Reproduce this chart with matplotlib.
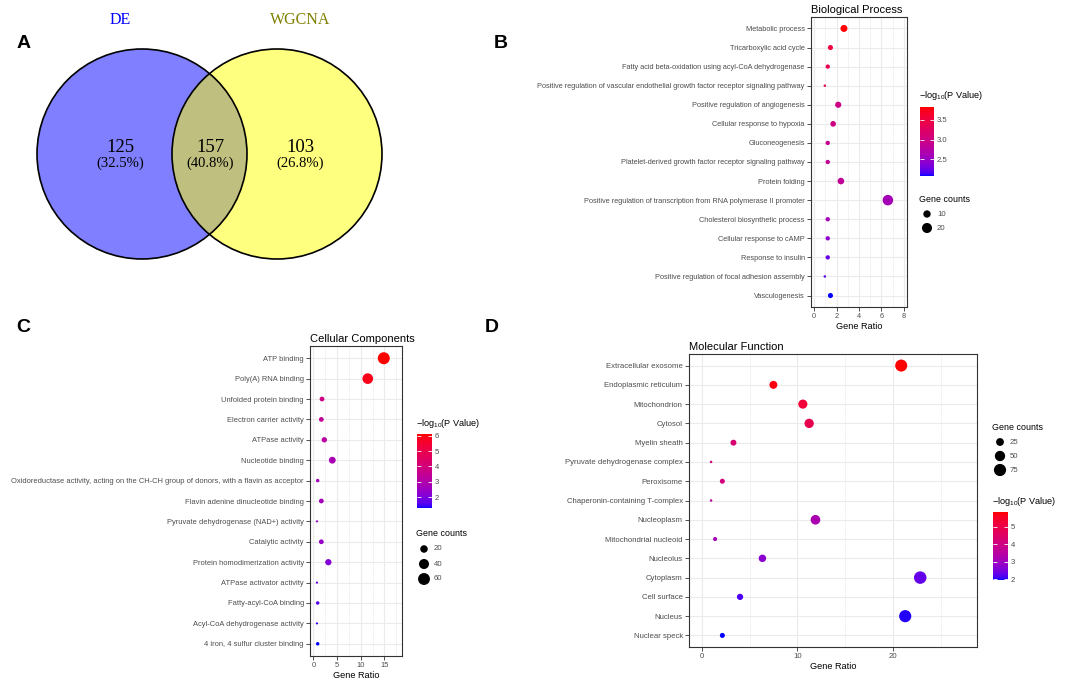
import numpy as np
import matplotlib
matplotlib.use("Agg")
import matplotlib.pyplot as plt
from matplotlib.colors import ListedColormap, Normalize
from matplotlib.cm import ScalarMappable
from matplotlib.patches import Circle
from matplotlib.ticker import MultipleLocator, FormatStrFormatter

plt.rcParams['font.family'] = ['Liberation Sans', 'DejaVu Sans']
plt.rcParams['mathtext.default'] = 'regular'

W, H = 1065, 682

# ---- data ----
venn_sets = ["DE", "WGCNA"]
venn_counts = [125, 157, 103]
venn_pct = ["(32.5%)", "(40.8%)", "(26.8%)"]

bp_terms = ["Metabolic process", "Tricarboxylic acid cycle",
            "Fatty acid beta-oxidation using acyl-CoA dehydrogenase",
            "Positive regulation of vascular endothelial growth factor receptor signaling pathway",
            "Positive regulation of angiogenesis", "Cellular response to hypoxia",
            "Gluconeogenesis", "Platelet-derived growth factor receptor signaling pathway",
            "Protein folding", "Positive regulation of transcription from RNA polymerase II promoter",
            "Cholesterol biosynthetic process", "Cellular response to cAMP",
            "Response to insulin", "Positive regulation of focal adhesion assembly",
            "Vasculogenesis"]
bp_ratio = [2.66, 1.46, 1.22, 0.96, 2.15, 1.70, 1.22, 1.22, 2.39, 6.57, 1.22, 1.22, 1.22, 0.96, 1.46]
bp_count = [9, 5, 4, 3, 7, 6, 4, 4, 8, 22, 4, 4, 4, 3, 5]
bp_logp = [3.82, 3.50, 3.35, 3.40, 3.00, 3.00, 2.90, 2.85, 2.85, 2.60, 2.60, 2.45, 2.25, 2.20, 2.08]

cc_terms = ["ATP binding", "Poly(A) RNA binding", "Unfolded protein binding",
            "Electron carrier activity", "ATPase activity", "Nucleotide binding",
            "Oxidoreductase activity, acting on the CH-CH group of donors, with a flavin as acceptor",
            "Flavin adenine dinucleotide binding", "Pyruvate dehydrogenase (NAD+) activity",
            "Catalytic activity", "Protein homodimerization activity", "ATPase activator activity",
            "Fatty-acyl-CoA binding", "Acyl-CoA dehydrogenase activity",
            "4 iron, 4 sulfur cluster binding"]
cc_ratio = [14.86, 11.48, 1.83, 1.69, 2.32, 4.00, 0.92, 1.69, 0.77, 1.69, 3.17, 0.77, 0.92, 0.77, 0.92]
cc_count = [61, 46, 7, 7, 9, 16, 4, 7, 3, 7, 13, 3, 4, 3, 4]
cc_logp = [6.13, 5.90, 3.80, 3.40, 3.20, 2.80, 2.70, 2.70, 2.50, 2.40, 2.10, 1.70, 1.60, 1.45, 1.28]

mf_terms = ["Extracellular exosome", "Endoplasmic reticulum", "Mitochondrion", "Cytosol",
            "Myelin sheath", "Pyruvate dehydrogenase complex", "Peroxisome",
            "Chaperonin-containing T-complex", "Nucleoplasm", "Mitochondrial nucleoid",
            "Nucleolus", "Cytoplasm", "Cell surface", "Nucleus", "Nuclear speck"]
mf_ratio = [20.87, 7.50, 10.58, 11.24, 3.32, 0.98, 2.16, 0.98, 11.90, 1.40, 6.35, 22.86, 4.01, 21.29, 2.16]
mf_count = [73, 26, 37, 39, 12, 3, 8, 3, 42, 5, 22, 80, 14, 75, 8]
mf_logp = [5.83, 5.70, 5.20, 4.90, 4.30, 4.10, 4.10, 3.60, 3.20, 3.10, 2.70, 2.30, 2.15, 2.00, 1.95]


# ---- blue -> red gradient interpolated in CIELAB (like ggplot) ----
M = np.array([[0.4124, 0.3576, 0.1805],
              [0.2126, 0.7152, 0.0722],
              [0.0193, 0.1192, 0.9505]])
WP = np.array([0.95047, 1.0, 1.08883])


def to_lab(rgb):
    c = np.asarray(rgb, float)
    lin = np.where(c > 0.04045, ((c + 0.055) / 1.055) ** 2.4, c / 12.92)
    xyz = M @ lin / WP
    f = np.where(xyz > 0.008856, np.cbrt(xyz), 7.787 * xyz + 16 / 116)
    return np.array([116 * f[1] - 16, 500 * (f[0] - f[1]), 200 * (f[1] - f[2])])


def from_lab(lab):
    L, a, b = lab
    fy = (L + 16) / 116
    f = np.array([fy + a / 500, fy, fy - b / 200])
    xyz = np.where(f ** 3 > 0.008856, f ** 3, (f - 16 / 116) / 7.787) * WP
    lin = np.clip(np.linalg.inv(M) @ xyz, 0, 1)
    return np.where(lin > 0.0031308, 1.055 * lin ** (1 / 2.4) - 0.055, 12.92 * lin)


lo, hi = to_lab([0, 0, 1]), to_lab([1, 0, 0])
cmap = ListedColormap([np.clip(from_lab(lo + t * (hi - lo)), 0, 1) for t in np.linspace(0, 1, 256)])

fig = plt.figure(figsize=(W / 100, H / 100), dpi=100)


def px_axes(l, t, r, b):
    return fig.add_axes([l / W, 1 - b / H, (r - l) / W, (b - t) / H])


ov = fig.add_axes([0, 0, 1, 1])
ov.set_xlim(0, W)
ov.set_ylim(H, 0)
ov.axis('off')

# ---- A: Venn ----
ov.add_patch(Circle((142, 154), 105, facecolor=(0, 0, 1, 0.5), edgecolor='none'))
ov.add_patch(Circle((277, 154), 105, facecolor=(1, 1, 0, 0.5), edgecolor='none'))
ov.add_patch(Circle((142, 154), 105, fill=False, edgecolor='black', lw=1.2))
ov.add_patch(Circle((277, 154), 105, fill=False, edgecolor='black', lw=1.2))
ov.text(120, 20, venn_sets[0], color='blue', fontsize=11.5, family='Liberation Serif', ha='center', va='center')
ov.text(300, 20, venn_sets[1], color='#808000', fontsize=11.5, family='Liberation Serif', ha='center', va='center')
for xc, n, p in zip([120, 210, 300], venn_counts, venn_pct):
    ov.text(xc, 147, str(n), fontsize=13.5, family='Liberation Serif', ha='center', va='center')
    ov.text(xc, 163, p, fontsize=10.5, family='Liberation Serif', ha='center', va='center')

for lab, (x, y) in zip("ABCD", [(24, 43), (501, 43), (23, 328), (492, 328)]):
    ov.text(x, y, lab, fontsize=14, fontweight='bold', ha='center', va='center')


def dot_panel(box, terms, ratio, count, logp, title, xlim, major, minor, drange, fs):
    ax = px_axes(*box)
    y = np.arange(len(terms))[::-1]
    norm = Normalize(min(logp), max(logp))
    c = np.array(count, float)
    frac = np.sqrt((c - c.min()) / (c.max() - c.min()))
    d = drange[0] + (drange[1] - drange[0]) * frac
    ax.scatter(ratio, y, s=(d * 0.72) ** 2, c=logp, cmap=cmap, norm=norm, linewidths=0, zorder=3)
    ax.set_xlim(*xlim)
    ax.set_ylim(-0.6, len(terms) - 0.4)
    ax.set_yticks(y)
    ax.set_yticklabels(terms)
    ax.xaxis.set_major_locator(MultipleLocator(major))
    ax.xaxis.set_minor_locator(MultipleLocator(minor))
    ax.grid(True, which='major', color='#EBEBEB', lw=0.8)
    ax.grid(True, which='minor', axis='x', color='#EBEBEB', lw=0.4)
    ax.set_axisbelow(True)
    ax.tick_params(which='major', length=3, width=0.6, color='#333333', labelcolor='#4D4D4D',
                   labelsize=fs, pad=1.5)
    ax.tick_params(which='minor', length=0)
    for s in ax.spines.values():
        s.set_color('#333333')
        s.set_linewidth(0.8)
    ax.set_xlabel("Gene Ratio", fontsize=6.6, labelpad=1)
    ax.set_title(title, loc='left', fontsize=8, pad=3)
    return norm, c.min(), c.max()


def legends(norm, cmin, cmax, drange, cb_box, cb_ticks, cb_fmt, cb_title_xy, sz_title_xy, sz_breaks, sz_ys, sz_x):
    cax = px_axes(*cb_box)
    cb = fig.colorbar(ScalarMappable(norm=norm, cmap=cmap), cax=cax)
    cb.outline.set_visible(False)
    cb.set_ticks(cb_ticks)
    cax.yaxis.set_major_formatter(FormatStrFormatter(cb_fmt))
    cax.tick_params(direction='in', length=3, width=0.6, color='white', labelcolor='#4D4D4D',
                    labelsize=5.6, left=True, right=True, pad=2)
    ov.text(*cb_title_xy, "\u2212log$_{10}$(P Value)", fontsize=6.6, ha='left', va='center')
    ov.text(*sz_title_xy, "Gene counts", fontsize=6.4, ha='left', va='center')
    b = np.array(sz_breaks, float)
    d = drange[0] + (drange[1] - drange[0]) * np.sqrt((b - cmin) / (cmax - cmin))
    ov.scatter([sz_x] * len(b), sz_ys, s=(d * 0.72) ** 2, color='black', linewidths=0)
    for v, yy in zip(sz_breaks, sz_ys):
        ov.text(sz_x + 10, yy, str(v), fontsize=5.6, color='#4D4D4D', ha='left', va='center')


# ---- B ----
dr = (2.5, 10.5)
nb, cmn, cmx = dot_panel((811, 17, 907, 307), bp_terms, bp_ratio, bp_count, bp_logp,
                         "Biological Process", (-0.27, 8.27), 2, 1, dr, 5.3)
legends(nb, cmn, cmx, dr, (920, 107, 934, 176), [2.5, 3.0, 3.5], '%.1f', (919, 96),
        (919, 199), [10, 20], [214, 228], 927)

# ---- C ----
dr = (2.2, 12.0)
nc, cmn, cmx = dot_panel((310, 346, 402, 656), cc_terms, cc_ratio, cc_count, cc_logp,
                         "Cellular Components", (-0.7, 18.7), 5, 2.5, dr, 5.4)
legends(nc, cmn, cmx, dr, (417, 434, 432, 508), [2, 3, 4, 5, 6], '%d', (416, 423),
        (416, 533), [20, 40, 60], [549, 564, 579], 424)

# ---- D ----
dr = (2.5, 12.5)
nd, cmn, cmx = dot_panel((689, 354, 977, 647), mf_terms, mf_ratio, mf_count, mf_logp,
                         "Molecular Function", (-1.33, 28.8), 10, 5, dr, 5.6)
legends(nd, cmn, cmx, dr, (993, 512, 1008, 580), [2, 3, 4, 5], '%d', (992, 501),
        (992, 427), [25, 50, 75], [442, 456, 470], 1000)

fig.savefig("out.png", dpi=100)
